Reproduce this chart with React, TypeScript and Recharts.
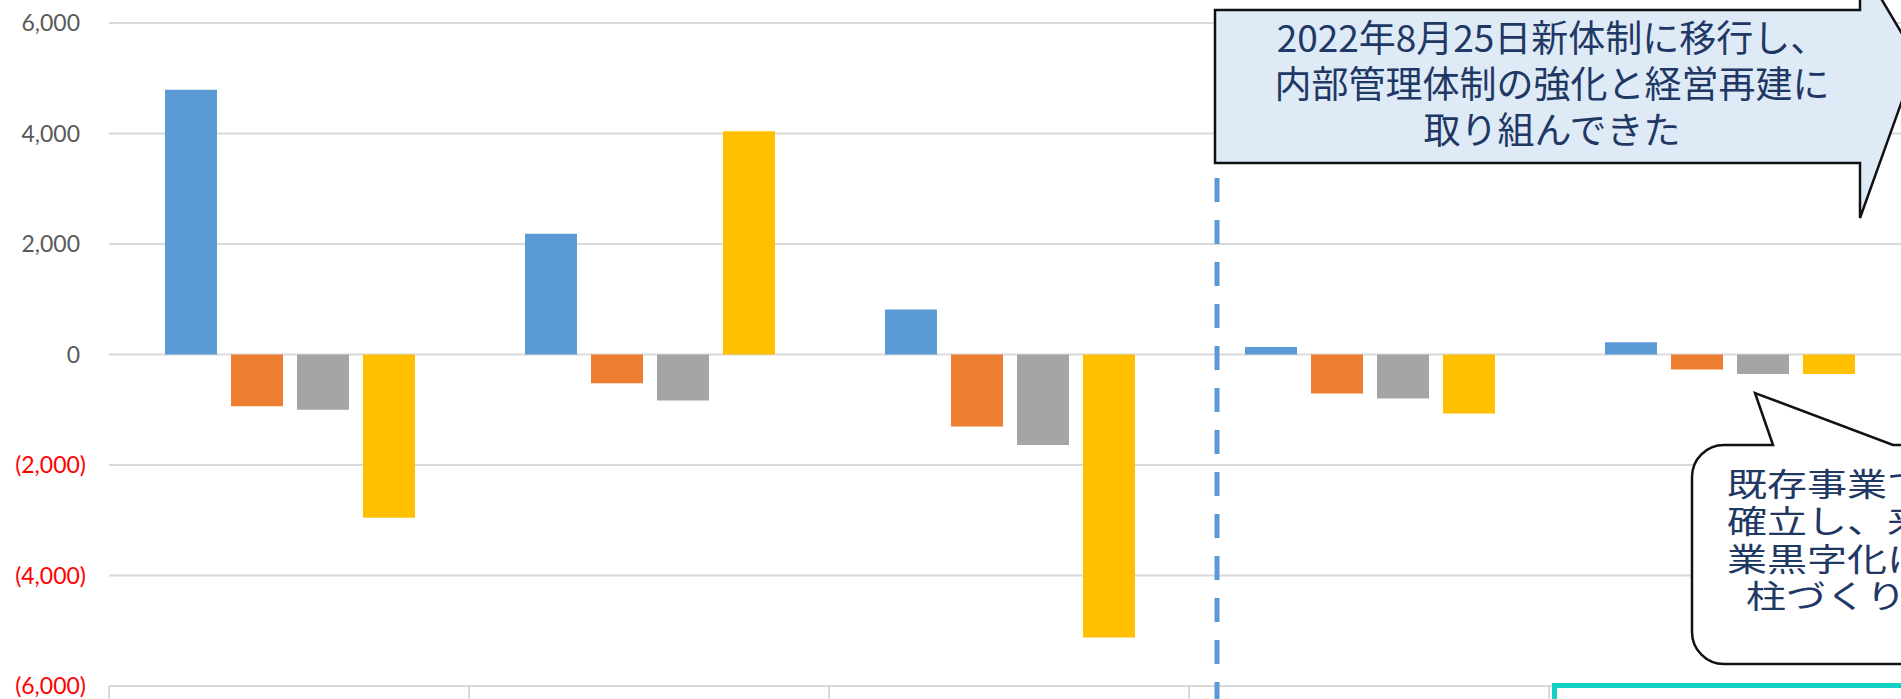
import { Bar, BarChart, CartesianGrid, XAxis, YAxis } from "recharts";

// 期間ごとの損益（百万円）
const categories = ["期間1", "期間2", "期間3", "期間4", "期間5"];
const grossProfit = [4790, 2186, 815, 138, 223];
const operatingProfit = [-935, -520, -1304, -707, -272];
const ordinaryProfit = [-1000, -833, -1636, -797, -351];
const netProfit = [-2953, 4040, -5121, -1069, -351];
const yTicks = [-6000, -4000, -2000, 0, 2000, 4000, 6000];

const calloutTop = ["2022年8月25日新体制に移行し、", "内部管理体制の強化と経営再建に", "取り組んできた"];
const calloutBottom = ["既存事業で", "確立し、来", "業黒字化に", "柱づくりに"];

const COLORS = {
  gross: "#5B9BD5",
  operating: "#ED7D31",
  ordinary: "#A5A5A5",
  net: "#FFC000",
};

const GRID = "#D9D9D9";
const CAT_W = 360;
const TEXT_NAVY = "#1F3864";

const data = categories.map((period, i) => ({
  period,
  gross: grossProfit[i],
  operating: operatingProfit[i],
  ordinary: ordinaryProfit[i],
  net: netProfit[i],
}));

function fmt(v: number) {
  const s = Math.abs(v).toLocaleString("en-US");
  return v < 0 ? `(${s})` : s;
}

function YTick(props: any) {
  const { y, payload } = props;
  const neg = payload.value < 0;
  return (
    <text
      x={neg ? 86 : 80}
      y={y}
      dy={8}
      textAnchor="end"
      fontFamily="Lato, 'Open Sans', sans-serif"
      fontSize={23}
      fill={neg ? "#FF0000" : "#595959"}
    >
      {fmt(payload.value)}
    </text>
  );
}

// ticks sit on the category boundaries, labels are below the visible area
function BoundaryTick(props: any) {
  const { x, y, index } = props;
  const half = CAT_W / 2;
  return (
    <g>
      <line x1={x - half} x2={x - half} y1={y} y2={y + 20} stroke={GRID} strokeWidth={2} />
      {index === categories.length - 1 && (
        <line x1={x + half} x2={x + half} y1={y} y2={y + 20} stroke={GRID} strokeWidth={2} />
      )}
    </g>
  );
}

function Overlay() {
  return (
    <svg
      width={1901}
      height={699}
      style={{ position: "absolute", left: 0, top: 0, pointerEvents: "none" }}
    >
      {/* 新体制移行の区切り */}
      <line
        x1={1217}
        x2={1217}
        y1={178}
        y2={720}
        stroke="#5B9BD5"
        strokeWidth={5}
        strokeDasharray="24 18"
      />

      {/* right arrow callout */}
      <polygon
        points="1215,10 1860,10 1860,-37 1917,59 1860,218 1860,163 1215,163"
        fill="#DEEBF7"
        stroke="#111"
        strokeWidth={2.5}
        strokeLinejoin="miter"
      />
      <text
        textAnchor="middle"
        fontFamily="'Noto Sans CJK JP', sans-serif"
        fontSize={37}
        fill={TEXT_NAVY}
      >
        {calloutTop.map((t, i) => (
          <tspan key={t} x={1552} y={52 + i * 46}>
            {t}
          </tspan>
        ))}
      </text>

      {/* speech bubble */}
      <path
        d="M1773,445 L1755,393 L1893,445 L1960,445 L1960,664 L1724,664 A32,32 0 0 1 1692,632 L1692,477 A32,32 0 0 1 1724,445 Z"
        fill="#fff"
        stroke="#111"
        strokeWidth={2.5}
        strokeLinejoin="miter"
      />
      {calloutBottom.map((t, i) => (
        <text
          key={t}
          transform={`translate(${i === 3 ? 1746 : 1727}, ${496 + i * 37.3}) scale(1.25, 1)`}
          fontFamily="'Noto Sans CJK JP', sans-serif"
          fontSize={32}
          fill={TEXT_NAVY}
        >
          {t}
        </text>
      ))}

      {/* highlighted category label box */}
      <rect x={1554.5} y={685.5} width={400} height={100} fill="#fff" stroke="#13D0C5" strokeWidth={5} />
    </svg>
  );
}

export default function App() {
  return (
    <div
      style={{
        position: "absolute",
        left: 0,
        top: 0,
        width: 1901,
        height: 699,
        overflow: "hidden",
        background: "#fff",
      }}
    >
      <BarChart
        width={1919}
        height={726}
        data={data}
        margin={{ top: 23, right: 10, left: 0, bottom: 0 }}
        barCategoryGap={56}
        barGap={14}
      >
        <CartesianGrid vertical={false} stroke={GRID} strokeWidth={2} />
        <XAxis
          dataKey="period"
          height={40}
          interval={0}
          axisLine={{ stroke: GRID, strokeWidth: 2 }}
          tickLine={false}
          tickSize={0}
          tickMargin={0}
          tick={<BoundaryTick />}
        />
        <YAxis
          width={109}
          domain={[-6000, 6000]}
          ticks={yTicks}
          interval={0}
          axisLine={false}
          tickLine={false}
          tick={<YTick />}
        />
        <Bar dataKey="gross" fill={COLORS.gross} isAnimationActive={false} />
        <Bar dataKey="operating" fill={COLORS.operating} isAnimationActive={false} />
        <Bar dataKey="ordinary" fill={COLORS.ordinary} isAnimationActive={false} />
        <Bar dataKey="net" fill={COLORS.net} isAnimationActive={false} />
      </BarChart>
      <Overlay />
    </div>
  );
}
